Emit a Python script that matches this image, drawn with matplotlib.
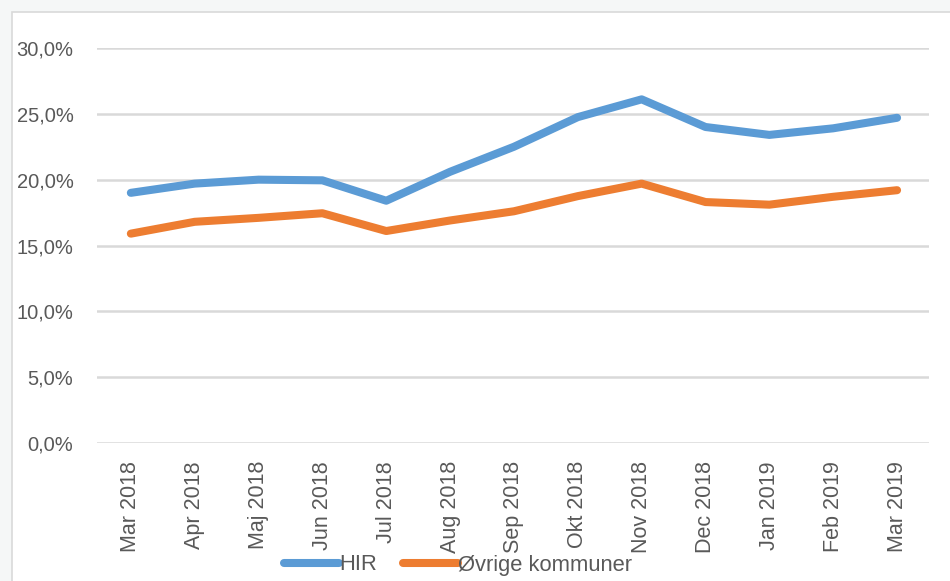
import numpy as np
import matplotlib.pyplot as plt
from matplotlib.patches import Rectangle
from matplotlib.ticker import FuncFormatter

# data
maaneder = ["Mar 2018", "Apr 2018", "Maj 2018", "Jun 2018", "Jul 2018", "Aug 2018",
            "Sep 2018", "Okt 2018", "Nov 2018", "Dec 2018", "Jan 2019", "Feb 2019", "Mar 2019"]
hir = [19.0, 19.7, 20.0, 19.95, 18.4, 20.6, 22.5, 24.75, 26.1, 24.0, 23.4, 23.9, 24.7]
oevrige = [15.9, 16.8, 17.1, 17.45, 16.1, 16.9, 17.6, 18.75, 19.7, 18.3, 18.1, 18.7, 19.2]
y_ticks = [0, 5, 10, 15, 20, 25, 30]

W, H = 950, 581
fig = plt.figure(figsize=(W / 100, H / 100), dpi=100)
fig.patch.set_facecolor("#f5f7f7")
# hvidt diagramomraade med kant
fig.patches.append(Rectangle((11.5 / W, -0.1), 1.2, 1 - 11.5 / H + 0.1, transform=fig.transFigure,
                             facecolor="white", edgecolor="#d9d9d9", linewidth=1.2, zorder=-5))

ax = fig.add_axes([97 / W, 1 - 443 / H, (929 - 97) / W, (443 - 48) / H])
ax.set_facecolor("none")
ax.set_zorder(2)

x = np.arange(len(maaneder))
ax.plot(x, hir, color="#5b9bd5", lw=5.8, solid_capstyle="round", solid_joinstyle="round",
        label="HIR", zorder=3)
ax.plot(x, oevrige, color="#ed7d31", lw=5.8, solid_capstyle="round", solid_joinstyle="round",
        label="Øvrige kommuner", zorder=3)

ax.set_xlim(-0.53, 12.5)
ax.set_ylim(0, 30)
ax.set_yticks(y_ticks)
ax.yaxis.set_major_formatter(FuncFormatter(lambda v, p: f"{v:.1f}%".replace(".", ",")))
ax.grid(axis="y", color="#d9d9d9", lw=1.8)
ax.set_axisbelow(True)
for s in ax.spines.values():
    s.set_visible(False)

ax.set_xticks(x)
ax.set_xticklabels(maaneder, rotation=90, fontsize=15.5, color="#595959",
                   family="Liberation Sans")
ax.tick_params(axis="x", length=0, pad=13)
ax.tick_params(axis="y", length=0, pad=17, labelsize=14.5, labelcolor="#595959")
for t in ax.get_yticklabels():
    t.set_family("Liberation Sans")

leg = fig.legend(loc="center", bbox_to_anchor=(458 / W, 1 - 565 / H), ncol=2, frameon=False,
                 prop={"family": "Liberation Sans", "size": 15.8}, handlelength=2.5,
                 handletextpad=0.0, columnspacing=1.2, labelcolor="#595959")
leg.set_zorder(3)

fig.savefig("out.png", dpi=100, facecolor=fig.get_facecolor())
